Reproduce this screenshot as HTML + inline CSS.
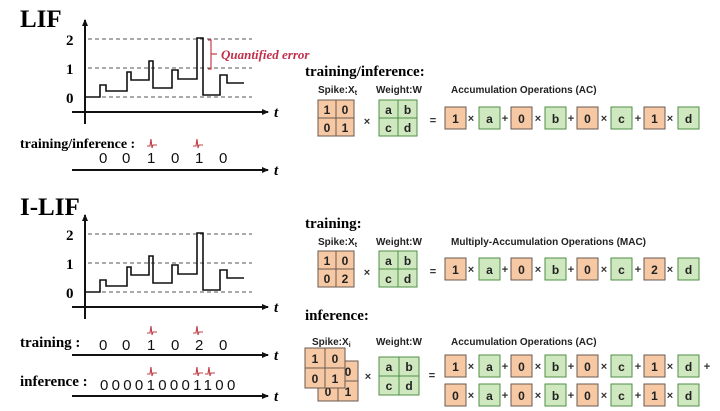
<!DOCTYPE html>
<html><head><meta charset="utf-8"><style>
html,body{margin:0;padding:0;background:#fff;}
svg{display:block;}
.ser{font-family:"Liberation Serif",serif;font-weight:bold;}
.san{font-family:"Liberation Sans",sans-serif;}
.ob{fill:#f6c8a4;stroke:#6a5a50;stroke-width:1;}
.gb{fill:#cfe8c0;stroke:#4f8f45;stroke-width:1;}
.bt{font-family:"Liberation Sans",sans-serif;font-weight:bold;font-size:12px;text-anchor:middle;fill:#222;}
.op{font-family:"Liberation Sans",sans-serif;font-weight:bold;font-size:11px;text-anchor:middle;fill:#333;}
.lb{font-family:"Liberation Sans",sans-serif;font-weight:bold;font-size:10px;fill:#222;}
.dash{stroke:#555;stroke-width:1;stroke-dasharray:4,3;}
.ax{stroke:#111;stroke-width:2;fill:none;}
.wv{stroke:#111;stroke-width:1.6;fill:none;}
.sp{stroke:#c0404a;stroke-width:1.1;fill:none;}
.dg{font-family:"Liberation Sans",sans-serif;font-size:15px;fill:#111;}
</style></head><body>
<svg width="720" height="411" viewBox="0 0 720 411" xmlns="http://www.w3.org/2000/svg">
<defs>
<marker id="ar" markerWidth="8" markerHeight="8" refX="6" refY="4" orient="auto" markerUnits="userSpaceOnUse"><path d="M0,1 L7,4 L0,7 Z" fill="#111"/></marker>
</defs>

<!-- LIF graph -->
<g>
<text x="20" y="27" class="ser" font-size="25">LIF</text>
<line x1="85" y1="124" x2="85" y2="20" class="ax" marker-end="url(#ar)"/>
<line x1="72" y1="112" x2="268" y2="112" class="ax" marker-end="url(#ar)"/>
<text x="274" y="117" class="ser" font-style="italic" font-size="15">t</text>
<line x1="88" y1="39" x2="252" y2="39" class="dash"/>
<line x1="88" y1="68" x2="252" y2="68" class="dash"/>
<line x1="88" y1="97" x2="252" y2="97" class="dash"/>
<text x="66" y="45" class="ser" font-size="15">2</text>
<text x="66" y="74" class="ser" font-size="15">1</text>
<text x="66" y="103" class="ser" font-size="15">0</text>
<path class="wv" d="M85,97 H100 V85 H106 V91 H127 V72 H131 V80 H149 V61 H153 V88 H172 V70 H178 V79 H197 V38 H203 V95 H220 V75 H227 V83 H244"/>
<path d="M208,40 H211 V69 H208 M211,54 H217" stroke="#c0404a" stroke-width="1.2" fill="none"/>
<text x="221" y="59" class="ser" font-style="italic" font-size="13" fill="#c0304a">Quantified error</text>
<text x="20" y="148" class="ser" font-size="14">training/inference :</text>
<path class="sp" d="M147,146 h3 l1,-7 l1,9 l1,-3 h4"/>
<path class="sp" d="M193,146 h3 l1,-7 l1,9 l1,-3 h4"/>
<text x="99" y="163" class="dg">0</text><text x="122" y="163" class="dg">0</text><text x="147" y="163" class="dg">1</text><text x="171" y="163" class="dg">0</text><text x="195" y="163" class="dg">1</text><text x="219" y="163" class="dg">0</text>
<line x1="72" y1="170" x2="268" y2="170" class="ax" marker-end="url(#ar)"/>
<text x="274" y="175" class="ser" font-style="italic" font-size="15">t</text>
</g>

<!-- I-LIF graph -->
<text x="20" y="215" class="ser" font-size="25">I-LIF</text>
<g transform="translate(0,195)">
<line x1="85" y1="124" x2="85" y2="20" class="ax" marker-end="url(#ar)"/>
<line x1="72" y1="112" x2="268" y2="112" class="ax" marker-end="url(#ar)"/>
<text x="274" y="117" class="ser" font-style="italic" font-size="15">t</text>
<line x1="88" y1="39" x2="252" y2="39" class="dash"/>
<line x1="88" y1="68" x2="252" y2="68" class="dash"/>
<line x1="88" y1="97" x2="252" y2="97" class="dash"/>
<text x="66" y="45" class="ser" font-size="15">2</text>
<text x="66" y="74" class="ser" font-size="15">1</text>
<text x="66" y="103" class="ser" font-size="15">0</text>
<path class="wv" d="M85,97 H100 V85 H106 V91 H127 V72 H131 V80 H149 V61 H153 V88 H172 V70 H178 V79 H197 V38 H203 V95 H220 V75 H227 V83 H244"/>
</g>
<text x="20" y="347" class="ser" font-size="15">training :</text>
<path class="sp" d="M147,333 h3 l1,-7 l1,9 l1,-3 h4"/>
<path class="sp" d="M193,333 h3 l1,-7 l1,9 l1,-3 h4"/>
<text x="99" y="350" class="dg">0</text><text x="122" y="350" class="dg">0</text><text x="147" y="350" class="dg">1</text><text x="171" y="350" class="dg">0</text><text x="195" y="350" class="dg">2</text><text x="219" y="350" class="dg">0</text>
<line x1="72" y1="355" x2="268" y2="355" class="ax" marker-end="url(#ar)"/>
<text x="274" y="360" class="ser" font-style="italic" font-size="15">t</text>
<text x="20" y="386" class="ser" font-size="15">inference :</text>
<path class="sp" d="M147,374 h3 l1,-7 l1,9 l1,-3 h4"/>
<path class="sp" d="M193,374 h3 l1,-7 l1,9 l1,-3 h4"/>
<path class="sp" d="M205,374 h3 l1,-7 l1,9 l1,-3 h4"/>
<text x="100" y="390" class="dg" letter-spacing="3.3">000010001100</text>
<line x1="72" y1="396" x2="268" y2="396" class="ax" marker-end="url(#ar)"/>
<text x="274" y="401" class="ser" font-style="italic" font-size="15">t</text>

<!-- Section 1 -->
<text x="305" y="76" class="ser" font-size="15">training/inference:</text>
<text x="318" y="93" class="lb">Spike:X<tspan font-size="7" dy="2">t</tspan></text>
<text x="376" y="93" class="lb">Weight:W</text>
<text x="451" y="93" class="lb">Accumulation Operations (AC)</text>
<g transform="translate(318,100)">
<rect class="ob" x="0" y="0" width="18" height="18"/><rect class="ob" x="18" y="0" width="18" height="18"/>
<rect class="ob" x="0" y="18" width="18" height="18"/><rect class="ob" x="18" y="18" width="18" height="18"/>
<text class="bt" x="9" y="14">1</text><text class="bt" x="27" y="14">0</text><text class="bt" x="9" y="32">0</text><text class="bt" x="27" y="32">1</text>
</g>
<text class="op" x="367" y="125">×</text>
<g transform="translate(379,100)">
<rect class="gb" x="0" y="0" width="19" height="18"/><rect class="gb" x="19" y="0" width="19" height="18"/>
<rect class="gb" x="0" y="18" width="19" height="18"/><rect class="gb" x="19" y="18" width="19" height="18"/>
<text class="bt" x="9.5" y="14">a</text><text class="bt" x="28.5" y="14">b</text><text class="bt" x="9.5" y="32">c</text><text class="bt" x="28.5" y="32">d</text>
</g>
<text class="op" x="433" y="124">=</text>
<g transform="translate(0,107)">
<rect class="ob" x="445" y="0" width="21" height="22"/><text class="bt" x="455.5" y="16">1</text>
<text class="op" x="471" y="15">×</text>
<rect class="gb" x="479" y="0" width="21" height="22"/><text class="bt" x="489.5" y="16">a</text>
<text class="op" x="505" y="15">+</text>
<rect class="ob" x="511" y="0" width="21" height="22"/><text class="bt" x="521.5" y="16">0</text>
<text class="op" x="538" y="15">×</text>
<rect class="gb" x="545" y="0" width="21" height="22"/><text class="bt" x="555.5" y="16">b</text>
<text class="op" x="571" y="15">+</text>
<rect class="ob" x="577" y="0" width="21" height="22"/><text class="bt" x="587.5" y="16">0</text>
<text class="op" x="604" y="15">×</text>
<rect class="gb" x="611" y="0" width="21" height="22"/><text class="bt" x="621.5" y="16">c</text>
<text class="op" x="638" y="15">+</text>
<rect class="ob" x="644" y="0" width="21" height="22"/><text class="bt" x="654.5" y="16">1</text>
<text class="op" x="670" y="15">×</text>
<rect class="gb" x="678" y="0" width="21" height="22"/><text class="bt" x="688.5" y="16">d</text>
</g>

<!-- Section 2 training -->
<text x="305" y="228" class="ser" font-size="15">training:</text>
<text x="318" y="245" class="lb">Spike:X<tspan font-size="7" dy="2">t</tspan></text>
<text x="376" y="245" class="lb">Weight:W</text>
<text x="451" y="245" class="lb">Multiply-Accumulation Operations (MAC)</text>
<g transform="translate(318,251)">
<rect class="ob" x="0" y="0" width="18" height="18"/><rect class="ob" x="18" y="0" width="18" height="18"/>
<rect class="ob" x="0" y="18" width="18" height="18"/><rect class="ob" x="18" y="18" width="18" height="18"/>
<text class="bt" x="9" y="14">1</text><text class="bt" x="27" y="14">0</text><text class="bt" x="9" y="32">0</text><text class="bt" x="27" y="32">2</text>
</g>
<text class="op" x="367" y="276">×</text>
<g transform="translate(379,251)">
<rect class="gb" x="0" y="0" width="19" height="18"/><rect class="gb" x="19" y="0" width="19" height="18"/>
<rect class="gb" x="0" y="18" width="19" height="18"/><rect class="gb" x="19" y="18" width="19" height="18"/>
<text class="bt" x="9.5" y="14">a</text><text class="bt" x="28.5" y="14">b</text><text class="bt" x="9.5" y="32">c</text><text class="bt" x="28.5" y="32">d</text>
</g>
<text class="op" x="433" y="275">=</text>
<g transform="translate(0,258)">
<rect class="ob" x="445" y="0" width="21" height="22"/><text class="bt" x="455.5" y="16">1</text>
<text class="op" x="471" y="15">×</text>
<rect class="gb" x="479" y="0" width="21" height="22"/><text class="bt" x="489.5" y="16">a</text>
<text class="op" x="505" y="15">+</text>
<rect class="ob" x="511" y="0" width="21" height="22"/><text class="bt" x="521.5" y="16">0</text>
<text class="op" x="538" y="15">×</text>
<rect class="gb" x="545" y="0" width="21" height="22"/><text class="bt" x="555.5" y="16">b</text>
<text class="op" x="571" y="15">+</text>
<rect class="ob" x="577" y="0" width="21" height="22"/><text class="bt" x="587.5" y="16">0</text>
<text class="op" x="604" y="15">×</text>
<rect class="gb" x="611" y="0" width="21" height="22"/><text class="bt" x="621.5" y="16">c</text>
<text class="op" x="638" y="15">+</text>
<rect class="ob" x="644" y="0" width="21" height="22"/><text class="bt" x="654.5" y="16">2</text>
<text class="op" x="670" y="15">×</text>
<rect class="gb" x="678" y="0" width="21" height="22"/><text class="bt" x="688.5" y="16">d</text>
</g>

<!-- Section 3 inference -->
<text x="305" y="320" class="ser" font-size="15">inference:</text>
<text x="312" y="345" class="lb">Spike:X<tspan font-size="7" dy="2">i</tspan></text>
<text x="376" y="345" class="lb">Weight:W</text>
<text x="451" y="345" class="lb">Accumulation Operations (AC)</text>
<g transform="translate(318,361)">
<rect class="ob" x="0" y="0" width="20" height="20"/><rect class="ob" x="20" y="0" width="20" height="20"/>
<rect class="ob" x="0" y="20" width="20" height="20"/><rect class="ob" x="20" y="20" width="20" height="20"/>
<text class="bt" x="10" y="15">0</text><text class="bt" x="30" y="15">0</text><text class="bt" x="10" y="35">0</text><text class="bt" x="30" y="35">1</text>
</g>
<g transform="translate(305,348)">
<rect class="ob" x="0" y="0" width="20" height="20"/><rect class="ob" x="20" y="0" width="20" height="20"/>
<rect class="ob" x="0" y="20" width="20" height="20"/><rect class="ob" x="20" y="20" width="20" height="20"/>
<text class="bt" x="10" y="15">1</text><text class="bt" x="30" y="15">0</text><text class="bt" x="10" y="35">0</text><text class="bt" x="30" y="35">1</text>
</g>
<text class="op" x="368" y="380">×</text>
<g transform="translate(379,357)">
<rect class="gb" x="0" y="0" width="20" height="19"/><rect class="gb" x="20" y="0" width="20" height="19"/>
<rect class="gb" x="0" y="19" width="20" height="19"/><rect class="gb" x="20" y="19" width="20" height="19"/>
<text class="bt" x="10" y="14">a</text><text class="bt" x="30" y="14">b</text><text class="bt" x="10" y="33">c</text><text class="bt" x="30" y="33">d</text>
</g>
<text class="op" x="432" y="379">=</text>
<g transform="translate(0,355)">
<rect class="ob" x="445" y="0" width="21" height="22"/><text class="bt" x="455.5" y="16">1</text>
<text class="op" x="471" y="15">×</text>
<rect class="gb" x="479" y="0" width="21" height="22"/><text class="bt" x="489.5" y="16">a</text>
<text class="op" x="505" y="15">+</text>
<rect class="ob" x="511" y="0" width="21" height="22"/><text class="bt" x="521.5" y="16">0</text>
<text class="op" x="538" y="15">×</text>
<rect class="gb" x="545" y="0" width="21" height="22"/><text class="bt" x="555.5" y="16">b</text>
<text class="op" x="571" y="15">+</text>
<rect class="ob" x="577" y="0" width="21" height="22"/><text class="bt" x="587.5" y="16">0</text>
<text class="op" x="604" y="15">×</text>
<rect class="gb" x="611" y="0" width="21" height="22"/><text class="bt" x="621.5" y="16">c</text>
<text class="op" x="638" y="15">+</text>
<rect class="ob" x="644" y="0" width="21" height="22"/><text class="bt" x="654.5" y="16">1</text>
<text class="op" x="670" y="15">×</text>
<rect class="gb" x="678" y="0" width="21" height="22"/><text class="bt" x="688.5" y="16">d</text>
<text class="op" x="707" y="15">+</text>
</g>
<g transform="translate(0,384)">
<rect class="ob" x="445" y="0" width="21" height="22"/><text class="bt" x="455.5" y="16">0</text>
<text class="op" x="471" y="15">×</text>
<rect class="gb" x="479" y="0" width="21" height="22"/><text class="bt" x="489.5" y="16">a</text>
<text class="op" x="505" y="15">+</text>
<rect class="ob" x="511" y="0" width="21" height="22"/><text class="bt" x="521.5" y="16">0</text>
<text class="op" x="538" y="15">×</text>
<rect class="gb" x="545" y="0" width="21" height="22"/><text class="bt" x="555.5" y="16">b</text>
<text class="op" x="571" y="15">+</text>
<rect class="ob" x="577" y="0" width="21" height="22"/><text class="bt" x="587.5" y="16">0</text>
<text class="op" x="604" y="15">×</text>
<rect class="gb" x="611" y="0" width="21" height="22"/><text class="bt" x="621.5" y="16">c</text>
<text class="op" x="638" y="15">+</text>
<rect class="ob" x="644" y="0" width="21" height="22"/><text class="bt" x="654.5" y="16">1</text>
<text class="op" x="670" y="15">×</text>
<rect class="gb" x="678" y="0" width="21" height="22"/><text class="bt" x="688.5" y="16">d</text>
</g>
</svg>
</body></html>
